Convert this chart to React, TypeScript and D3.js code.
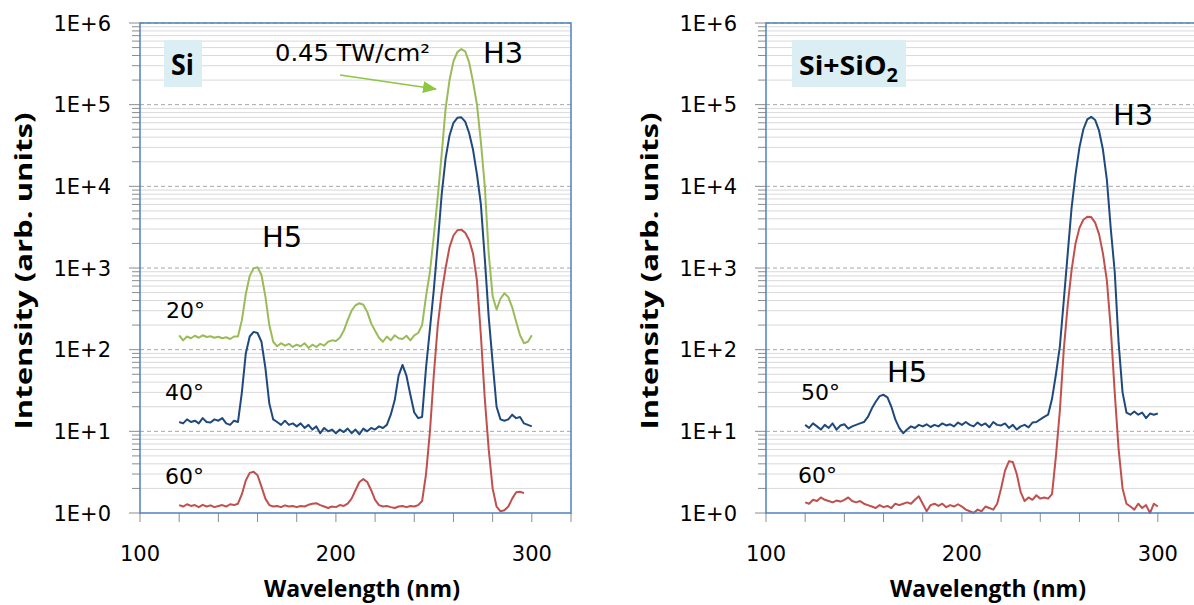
import React from 'react';
import * as d3 from 'd3';

// wavelength grid of the recorded spectra (nm)
const wavelengths = d3.range(120, 301, 2);

// Si, 20 deg, 0.45 TW/cm2
const siGreen20 = [
  150, 130, 145, 138, 148, 140, 150, 143, 146, 140,
  144, 138, 142, 135, 145, 145, 230, 480, 800, 990,
  1020, 820, 450, 200, 125, 110, 120, 112, 118, 108,
  115, 110, 120, 105, 115, 108, 118, 112, 125, 130,
  128, 140, 170, 230, 300, 350, 370, 355, 290, 210,
  170, 140, 125, 145, 130, 150, 138, 135, 148, 130,
  150, 160, 200, 450, 900, 2500, 7500, 25000, 90000, 200000,
  340000, 440000, 480000, 450000, 330000, 190000, 100000, 35000, 10000, 1500,
  450, 310, 420, 490, 440, 330, 220, 150, 120, 125,
  150,
];

// Si, 40 deg
const siBlue40 = [
  13, 12.5, 14, 13, 13.5, 12.5, 14.5, 13, 12.8, 14,
  13.5, 14.5, 12.5, 12, 13.5, 13, 30, 90, 145, 165,
  160, 125, 60, 22, 14, 13, 12, 13.5, 12, 12.5,
  11.5, 12.5, 11, 12, 10.5, 11.5, 9.5, 11, 10, 10.5,
  9.5, 10.5, 9.8, 10.8, 9.5, 10.5, 9.2, 10.8, 10, 11,
  10.5, 11.5, 11, 12, 16, 24, 48, 65, 48, 28,
  17, 14.5, 15, 60, 180, 550, 2000, 8000, 22000, 42000,
  60000, 69000, 70000, 62000, 45000, 28000, 14000, 6000, 1300, 250,
  70, 20, 14, 13.5, 14, 16, 14.5, 15, 12.5, 12,
  11.5,
];

// Si, 60 deg
const siRed60 = [
  1.25, 1.2, 1.28, 1.22, 1.25, 1.18, 1.26, 1.2, 1.24, 1.18,
  1.22, 1.25, 1.2, 1.28, 1.25, 1.3, 1.7, 2.5, 3.1, 3.2,
  2.9, 2.1, 1.5, 1.25, 1.2, 1.22, 1.18, 1.24, 1.2, 1.22,
  1.18, 1.22, 1.2, 1.26, 1.3, 1.32, 1.25, 1.2, 1.15, 1.2,
  1.18, 1.25, 1.22, 1.3, 1.5, 1.9, 2.4, 2.6, 2.4, 1.9,
  1.45, 1.25, 1.2, 1.22, 1.18, 1.15, 1.2, 1.22, 1.18, 1.22,
  1.2, 1.25, 1.4, 3, 10, 50, 200, 500, 1000, 1800,
  2500, 2900, 2950, 2700, 2200, 1500, 700, 150, 25, 6,
  2, 1.2, 1.05, 1.08, 1.2, 1.5, 1.8, 1.82, 1.75, null,
  null,
];

// Si+SiO2, 50 deg
const oxBlue50 = [
  12, 11, 12.5, 11.5, 10.5, 12, 11, 12.5, 10.5, 11.8,
  12.2, 10.8, 11.5, 12, 12.5, 13, 15, 19, 23, 27,
  28, 26, 20, 14, 11, 9.5, 10.5, 11.5, 11, 12,
  11.5, 12.2, 11.3, 12, 11.5, 12.5, 11.8, 12.2, 11.5, 12.8,
  12, 13, 12, 11.5, 12.8, 11.8, 12.5, 11.2, 13, 12,
  11.8, 12.5, 11, 12, 10.5, 11.5, 12, 11.2, 12.8, 13,
  14, 15, 16, 25, 50, 110, 400, 1500, 5500, 14000,
  30000, 50000, 66000, 71000, 65000, 48000, 28000, 12000, 3000, 900,
  120, 30, 17, 16, 17.5, 16, 17, 14.5, 16.5, 16,
  16.5,
];

// Si+SiO2, 60 deg
const oxRed60 = [
  1.35, 1.3, 1.45, 1.4, 1.55, 1.45, 1.4, 1.35, 1.42, 1.38,
  1.45, 1.55, 1.4, 1.35, 1.4, 1.3, 1.25, 1.2, 1.15, 1.25,
  1.18, 1.22, 1.15, 1.3, 1.25, 1.3, 1.35, 1.3, 1.45, 1.6,
  1.3, 1.05, 1.25, 1.3, 1.22, 1.3, 1.18, 1.25, 1.2, 1.28,
  1.2, 1.1, 1.05, 1.0, 1.1, 1.05, 1.2, 1.15, 1.1, 1.3,
  2, 3.3, 4.3, 4.2, 3, 1.8, 1.4, 1.55, 1.45, 1.65,
  1.5, 1.55, 1.5, 1.7, 5, 18, 100, 350, 950, 2000,
  3100, 3900, 4250, 4200, 3600, 2600, 1500, 700, 180, 30,
  6, 2, 1.3, 1.2, 1.1, 1.3, 1.15, 1.25, 1.0, 1.3,
  1.2,
];

const yDecades = [1, 10, 100, 1000, 10000, 100000, 1000000];
const yTickLabels = ['1E+0', '1E+1', '1E+2', '1E+3', '1E+4', '1E+5', '1E+6'];
const xTickValues = [100, 120, 140, 160, 180, 200, 220, 240, 260, 280, 300, 320];
const xTickLabels = [100, 200, 300];

const GREEN = '#9BBB59';
const BLUE = '#1F497D';
const RED = '#C0504D';
const FONT = '"DejaVu Sans", "Liberation Sans", sans-serif';
const BOLD = '"Open Sans", "Liberation Sans", sans-serif';

const TOP = 23;
const BOTTOM = 513;
const PW = 431;

const Panel = ({ x0, series, children }) => {
  const x = d3.scaleLinear().domain([100, 320]).range([x0, x0 + PW]);
  const y = d3.scaleLog().domain([1, 1e6]).range([BOTTOM, TOP]);

  const minor = [];
  yDecades.slice(0, -1).forEach(d => {
    for (let k = 2; k < 10; k++) minor.push(d * k);
  });

  const line = d3
    .line()
    .defined(d => d[1] != null)
    .x(d => x(d[0]))
    .y(d => y(d[1]));

  return (
    <g>
      {minor.map(v => (
        <line key={'m' + v} x1={x0} x2={x0 + PW} y1={y(v)} y2={y(v)} stroke="#D9D9D9" strokeWidth={1} />
      ))}
      {yDecades.slice(1).map(v => (
        <line key={'M' + v} x1={x0} x2={x0 + PW} y1={y(v)} y2={y(v)} stroke="#A6A6A6" strokeWidth={1} strokeDasharray="4 3" />
      ))}

      {series.map(s => (
        <path
          key={s.name}
          d={line(wavelengths.map((w, i) => [w, s.values[i]]))}
          fill="none"
          stroke={s.color}
          strokeWidth={2}
          strokeLinejoin="round"
        />
      ))}

      {/* y ticks */}
      {minor.map(v => (
        <line key={'tm' + v} x1={x0 - 8} x2={x0} y1={y(v)} y2={y(v)} stroke="#8C8C8C" strokeWidth={1} />
      ))}
      {yDecades.map(v => (
        <line key={'tM' + v} x1={x0 - 11} x2={x0} y1={y(v)} y2={y(v)} stroke="#8C8C8C" strokeWidth={1} />
      ))}
      {/* x ticks */}
      {xTickValues.map(v => (
        <line key={'tx' + v} x1={x(v)} x2={x(v)} y1={BOTTOM} y2={BOTTOM + 9} stroke="#8C8C8C" strokeWidth={1} />
      ))}

      <rect x={x0} y={TOP} width={PW} height={BOTTOM - TOP} fill="none" stroke="#4F81BD" strokeWidth={1.5} />

      {yDecades.map((v, i) => (
        <text key={'ly' + v} x={x0 - 29} y={y(v) + 7.5} textAnchor="end" fontSize={21} fontFamily={FONT} fill="#000">
          {yTickLabels[i]}
        </text>
      ))}
      {xTickLabels.map(v => (
        <text key={'lx' + v} x={x(v)} y={561} textAnchor="middle" fontSize={21} fontFamily={FONT} fill="#000">
          {v}
        </text>
      ))}

      <text x={x0 + 222} y={597} textAnchor="middle" fontSize={23} fontWeight="bold" fontFamily={BOLD} fill="#000">
        Wavelength (nm)
      </text>
      <text
        transform={`translate(${x0 - 108},271) rotate(-90)`}
        textAnchor="middle"
        fontSize={23}
        fontWeight="bold"
        fontFamily={BOLD}
        fill="#000"
        textLength={317}
        lengthAdjust="spacingAndGlyphs"
      >
        Intensity (arb. units)
      </text>
      {children}
    </g>
  );
};

const Label = ({ x, y, size = 22, children, ...rest }) => (
  <text x={x} y={y} fontSize={size} fontFamily={FONT} fill="#000" {...rest}>
    {children}
  </text>
);

const App = () => {
  const leftSeries = [
    { name: 'si20', values: siGreen20, color: GREEN },
    { name: 'si40', values: siBlue40, color: BLUE },
    { name: 'si60', values: siRed60, color: RED },
  ];
  const rightSeries = [
    { name: 'ox50', values: oxBlue50, color: BLUE },
    { name: 'ox60', values: oxRed60, color: RED },
  ];

  return (
    <>
      <style>{'body{margin:0}'}</style>
      <svg width={1194} height={605} style={{ display: 'block', background: '#fff' }}>
        <defs>
          <marker id="arrowG" markerUnits="userSpaceOnUse" markerWidth={14} markerHeight={12} refX={13} refY={6} orient="auto">
            <path d="M0,0 L14,6 L0,12 Z" fill="#8DC63F" />
          </marker>
        </defs>

        <Panel x0={140} series={leftSeries}>
          <rect x={164} y={40} width={38} height={47} fill="#DBEEF4" />
          <Label x={171} y={75} size={29} fontWeight="bold" fontFamily={BOLD} textLength={23} lengthAdjust="spacingAndGlyphs">Si</Label>
          <Label x={275} y={61} size={23} textLength={155} lengthAdjust="spacingAndGlyphs">0.45 TW/cm²</Label>
          <line x1={340} y1={75} x2={436} y2={89} stroke="#8DC63F" strokeWidth={1.5} markerEnd="url(#arrowG)" />
          <Label x={483} y={63} size={29}>H3</Label>
          <Label x={262} y={247} size={29}>H5</Label>
          <Label x={166} y={318}>20°</Label>
          <Label x={165} y={400}>40°</Label>
          <Label x={165} y={484}>60°</Label>
        </Panel>

        <Panel x0={766} series={rightSeries}>
          <rect x={792} y={40} width={114} height={47} fill="#DBEEF4" />
          <Label x={799} y={75} size={27} fontWeight="bold" fontFamily={BOLD} textLength={99} lengthAdjust="spacingAndGlyphs">
            Si+SiO<tspan fontSize={19} dy={7}>2</tspan>
          </Label>
          <Label x={1113} y={125} size={29}>H3</Label>
          <Label x={887} y={382} size={29}>H5</Label>
          <Label x={801} y={400}>50°</Label>
          <Label x={798} y={483}>60°</Label>
        </Panel>
      </svg>
    </>
  );
};

export default App;
